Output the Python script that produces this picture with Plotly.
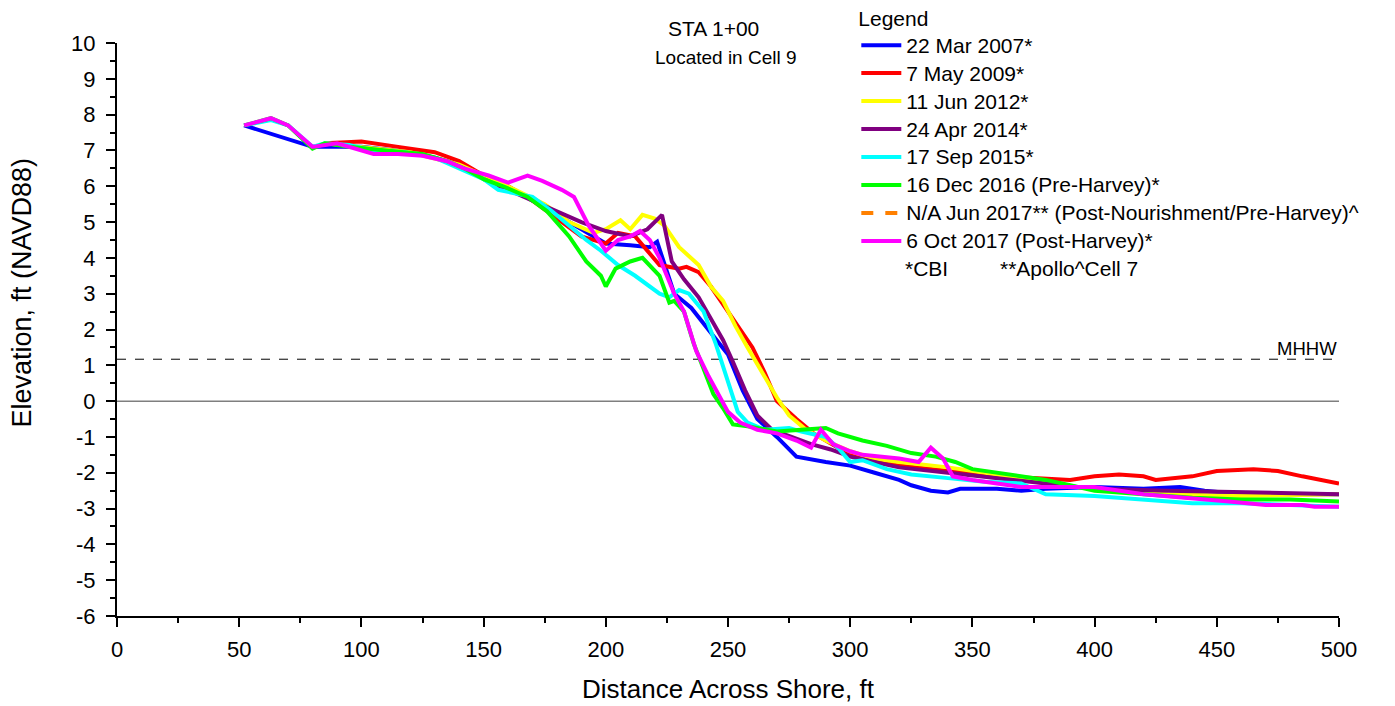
import plotly.graph_objects as go

# survey profiles, STA 1+00 (distance ft, elevation ft NAVD88)
mar2007_x = [52, 80, 100, 120, 130, 140, 150, 160, 170, 180, 190, 200, 210, 218, 221, 228, 235, 242, 250, 256, 262, 270, 278, 290, 300, 310, 320, 325, 333, 340, 345, 360, 370, 380, 400, 420, 435, 445, 460, 500]
mar2007_y = [7.7, 7.1, 7.1, 6.95, 6.8, 6.6, 6.3, 6.0, 5.6, 5.2, 4.8, 4.4, 4.35, 4.3, 4.45, 3.0, 2.6, 2.0, 1.3, 0.3, -0.5, -1.0, -1.55, -1.7, -1.8, -2.0, -2.2, -2.35, -2.5, -2.55, -2.45, -2.45, -2.5, -2.45, -2.4, -2.45, -2.4, -2.5, -2.6, -2.6]

may2009_x = [85, 100, 115, 130, 140, 150, 160, 170, 180, 190, 200, 205, 212, 218, 222, 230, 233, 238, 243, 247, 252, 260, 265, 270, 278, 285, 295, 305, 320, 340, 360, 375, 390, 400, 410, 420, 425, 440, 450, 465, 475, 485, 500]
may2009_y = [7.2, 7.25, 7.1, 6.95, 6.7, 6.3, 6.0, 5.6, 5.1, 4.6, 4.4, 4.7, 4.6, 4.1, 3.8, 3.7, 3.75, 3.6, 3.2, 2.8, 2.3, 1.5, 0.8, 0.0, -0.5, -0.9, -1.3, -1.6, -1.8, -1.95, -2.1, -2.15, -2.2, -2.1, -2.05, -2.1, -2.2, -2.1, -1.95, -1.9, -1.95, -2.1, -2.3]

jun2012_x = [85, 100, 120, 140, 150, 160, 175, 185, 195, 200, 206, 210, 215, 220, 224, 230, 238, 243, 248, 253, 258, 265, 270, 275, 282, 290, 300, 310, 320, 340, 360, 380, 400, 430, 460, 500]
jun2012_y = [7.2, 7.1, 6.95, 6.6, 6.3, 6.0, 5.5, 5.0, 4.7, 4.8, 5.05, 4.8, 5.2, 5.1, 4.9, 4.3, 3.8, 3.2, 2.8, 2.1, 1.5, 0.7, 0.1, -0.4, -0.8, -1.1, -1.4, -1.6, -1.7, -1.85, -2.05, -2.3, -2.45, -2.6, -2.65, -2.6]

apr2014_x = [150, 160, 170, 180, 190, 200, 210, 217, 223, 227, 232, 238, 243, 248, 252, 257, 262, 268, 276, 284, 292, 300, 310, 320, 340, 360, 380, 400, 430, 470, 500]
apr2014_y = [6.2, 5.9, 5.6, 5.3, 5.0, 4.75, 4.6, 4.8, 5.2, 3.9, 3.4, 2.9, 2.3, 1.7, 1.1, 0.3, -0.4, -0.8, -1.0, -1.2, -1.35, -1.55, -1.7, -1.85, -2.0, -2.15, -2.3, -2.45, -2.5, -2.55, -2.6]

sep2015_x = [52, 63, 70, 80, 85, 95, 105, 118, 130, 140, 150, 156, 163, 170, 178, 185, 192, 198, 205, 212, 218, 222, 226, 230, 234, 240, 245, 250, 254, 258, 265, 275, 280, 290, 295, 300, 305, 315, 325, 340, 355, 370, 380, 400, 420, 440, 460, 480, 500]
sep2015_y = [7.7, 7.85, 7.7, 7.1, 7.2, 7.15, 7.0, 6.95, 6.8, 6.5, 6.2, 5.9, 5.8, 5.7, 5.3, 4.9, 4.5, 4.2, 3.8, 3.5, 3.2, 3.0, 2.9, 3.1, 3.0, 2.5, 1.6, 0.5, -0.3, -0.6, -0.8, -0.75, -0.85, -1.0, -1.3, -1.7, -1.65, -1.9, -2.05, -2.15, -2.25, -2.3, -2.6, -2.65, -2.75, -2.85, -2.85, -2.9, -2.95]

dec2016_x = [52, 63, 70, 80, 85, 95, 110, 125, 135, 142, 150, 158, 168, 176, 185, 192, 198, 200, 204, 210, 215, 218, 222, 226, 228, 232, 236, 240, 244, 248, 252, 258, 265, 270, 280, 290, 295, 305, 315, 325, 335, 343, 350, 360, 370, 380, 390, 400, 420, 440, 460, 480, 500]
dec2016_y = [7.7, 7.9, 7.7, 7.05, 7.2, 7.1, 7.0, 6.9, 6.7, 6.5, 6.2, 6.0, 5.7, 5.3, 4.6, 3.9, 3.5, 3.2, 3.7, 3.9, 4.0, 3.8, 3.5, 2.75, 2.8, 2.5, 1.6, 0.9, 0.2, -0.2, -0.65, -0.7, -0.8, -0.85, -0.8, -0.75, -0.9, -1.1, -1.25, -1.45, -1.55, -1.7, -1.9, -2.0, -2.1, -2.2, -2.35, -2.5, -2.6, -2.7, -2.75, -2.75, -2.8]

oct2017_x = [52, 63, 70, 80, 90, 97, 105, 115, 125, 135, 142, 152, 160, 168, 174, 182, 187, 193, 200, 205, 210, 214, 218, 222, 228, 232, 237, 242, 246, 250, 255, 262, 270, 278, 284, 288, 293, 300, 305, 312, 320, 328, 333, 338, 342, 350, 360, 370, 380, 400, 420, 440, 455, 470, 485, 490, 500]
oct2017_y = [7.7, 7.9, 7.7, 7.1, 7.2, 7.05, 6.9, 6.9, 6.85, 6.7, 6.5, 6.3, 6.1, 6.3, 6.15, 5.9, 5.7, 4.9, 4.2, 4.5, 4.6, 4.75, 4.5, 4.0, 3.0, 2.5, 1.4, 0.7, 0.2, -0.3, -0.6, -0.8, -0.9, -1.1, -1.3, -0.8, -1.2, -1.4, -1.5, -1.55, -1.6, -1.7, -1.3, -1.6, -2.1, -2.2, -2.3, -2.4, -2.4, -2.4, -2.6, -2.7, -2.8, -2.9, -2.9, -2.95, -2.95]

mhhw = 1.17

y_ticks = list(range(-6, 11))
y_labels = [str(v) for v in y_ticks]  # plain hyphen minus, as in the original

series = [
    ("22 Mar 2007*", mar2007_x, mar2007_y, "#0000ff", "solid"),
    ("7 May 2009*", may2009_x, may2009_y, "#ff0000", "solid"),
    ("11 Jun 2012*", jun2012_x, jun2012_y, "#ffff00", "solid"),
    ("24 Apr 2014*", apr2014_x, apr2014_y, "#800080", "solid"),
    ("17 Sep 2015*", sep2015_x, sep2015_y, "#00ffff", "solid"),
    ("16 Dec 2016 (Pre-Harvey)*", dec2016_x, dec2016_y, "#00ff00", "solid"),
    ("N/A Jun 2017** (Post-Nourishment/Pre-Harvey)^", [None], [None], "#ff8000", "dash"),
    ("6 Oct 2017 (Post-Harvey)*", oct2017_x, oct2017_y, "#ff00ff", "solid"),
]

FONT = "Liberation Sans, Arial, sans-serif"
LEG_TXT = 21     # legend glyph size
LEG_ROW = 19.2   # legend font size that sets the row pitch (~28 px)

fig = go.Figure()

# reference lines: MHHW and zero
fig.add_trace(go.Scatter(x=[0, 500], y=[mhhw, mhhw], mode="lines",
                         line=dict(color="black", width=1, dash="dash"),
                         showlegend=False, hoverinfo="skip"))
fig.add_trace(go.Scatter(x=[0, 500], y=[0, 0], mode="lines",
                         line=dict(color="#7f7f7f", width=1.5),
                         showlegend=False, hoverinfo="skip"))

for name, xs, ys, color, dash in series:
    fig.add_trace(go.Scatter(x=xs, y=ys, mode="lines",
                             name=f'<span style="font-size:{LEG_TXT}px">{name}</span>',
                             line=dict(color=color, width=4, dash=dash)))

fig.add_annotation(x=500, y=mhhw, xref="x", yref="y", text="MHHW",
                   showarrow=False, xanchor="right", yanchor="bottom", yshift=-2,
                   font=dict(size=18.5))
fig.add_annotation(x=0.488, y=1.026, xref="paper", yref="paper", text="STA 1+00",
                   showarrow=False, xanchor="center", yanchor="middle",
                   font=dict(size=21))
fig.add_annotation(x=0.498, y=0.974, xref="paper", yref="paper", text="Located in Cell 9",
                   showarrow=False, xanchor="center", yanchor="middle",
                   font=dict(size=19))
fig.add_annotation(x=0.643, y=0.607, xref="paper", yref="paper", text="*CBI",
                   showarrow=False, xanchor="left", yanchor="middle",
                   font=dict(size=LEG_TXT))
fig.add_annotation(x=0.721, y=0.607, xref="paper", yref="paper", text="**Apollo^Cell 7",
                   showarrow=False, xanchor="left", yanchor="middle",
                   font=dict(size=LEG_TXT))
# y-axis title sits above the middle of the axis in the original
fig.add_annotation(x=-0.0775, y=0.565, xref="paper", yref="paper",
                   text="Elevation, ft (NAVD88)", textangle=-90,
                   showarrow=False, xanchor="center", yanchor="middle",
                   font=dict(size=27))

fig.update_layout(
    width=1395, height=706,
    # page body adds 8 px at top/left, so the plot box sits at 117..1339 x 43..616 on screen
    margin=dict(l=109, r=64, t=35, b=98, autoexpand=False),
    paper_bgcolor="white", plot_bgcolor="white",
    font=dict(family=FONT, size=21, color="black"),
    legend=dict(x=0.605, y=1.077, xanchor="left", yanchor="top",
                title=dict(text="Legend", font=dict(size=LEG_TXT)),
                font=dict(size=LEG_ROW), bgcolor="rgba(0,0,0,0)",
                tracegroupgap=0, itemwidth=40),
    showlegend=True,
)
fig.update_xaxes(range=[0, 500], tick0=0, dtick=50, showgrid=False, zeroline=False,
                 showline=True, linecolor="black", linewidth=2,
                 ticks="outside", ticklen=9, tickwidth=2, tickcolor="black",
                 minor=dict(ticks="outside", ticklen=5, tickwidth=1.5, dtick=25, tickcolor="black"),
                 ticklabelstandoff=4,
                 title=dict(text="Distance Across Shore, ft", standoff=18, font=dict(size=26)),
                 tickfont=dict(size=22))
fig.update_yaxes(range=[-6, 10], tickvals=y_ticks, ticktext=y_labels,
                 showgrid=False, zeroline=False,
                 showline=True, linecolor="black", linewidth=2,
                 ticks="outside", ticklen=9, tickwidth=2, tickcolor="black",
                 minor=dict(ticks="outside", ticklen=5, tickwidth=1.5, dtick=0.5, tickcolor="black"),
                 ticklabelstandoff=6,
                 tickfont=dict(size=22))

fig.write_html("out.html")
